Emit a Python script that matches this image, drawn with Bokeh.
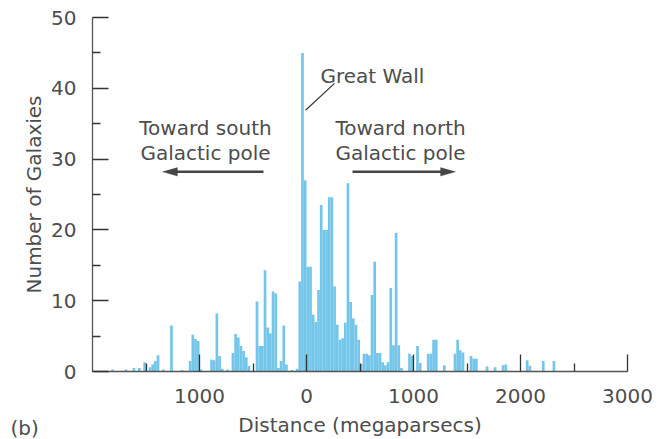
from bokeh.plotting import figure
from bokeh.models import (Range1d, FixedTicker, Label, Arrow, PolyAnnotation,
                          ColumnDataSource, Title)
from bokeh.embed import file_html
from bokeh.resources import INLINE

# ---- data ----
BIN_WIDTH = 25  # Mpc
bin_left = [-1825, -1700, -1625, -1575, -1525, -1475, -1450, -1425, -1400, -1350,
            -1275, -1175, -1100, -1075, -1050, -1025, -1000, -900, -875, -850,
            -825, -800, -750, -700, -675, -650, -625, -600, -575, -550,
            -475, -450, -425, -400, -375, -350, -325, -300, -275, -250,
            -225, -200, -150, -100, -75, -50, -25, 0, 25, 50,
            75, 100, 125, 150, 175, 200, 225, 250, 275, 300,
            325, 350, 375, 400, 425, 450, 475, 500, 525, 550,
            575, 600, 625, 650, 675, 700, 725, 750, 775, 800,
            825, 850, 875, 950, 975, 1025, 1050, 1125, 1150, 1175,
            1200, 1275, 1375, 1400, 1425, 1450, 1525, 1550, 1575, 1675,
            1750, 1825, 1850, 2050, 2075, 2200, 2300]
counts = [0.3, 0.3, 0.5, 0.5, 1.3, 0.6, 1.0, 1.5, 2.3, 0.3,
          6.5, 0.2, 1.5, 5.2, 4.6, 4.3, 0.3, 1.7, 1.6, 8.2,
          2.2, 0.4, 0.3, 2.6, 5.3, 4.8, 3.6, 2.9, 2.0, 0.8,
          9.9, 3.6, 3.6, 14.3, 6.2, 5.4, 11.3, 11.0, 0.5, 1.5,
          6.5, 1.0, 0.2, 0.4, 12.7, 45.0, 27.0, 14.8, 14.8, 8.0,
          7.0, 11.5, 23.5, 20.0, 20.0, 24.6, 24.6, 12.0, 6.6, 4.5,
          4.7, 6.9, 26.6, 9.8, 7.5, 6.6, 4.5, 1.1, 2.5, 2.5,
          2.3, 10.8, 15.5, 2.6, 2.6, 1.3, 0.9, 1.3, 11.8, 3.7,
          19.6, 3.7, 0.5, 2.5, 2.2, 3.6, 1.2, 2.5, 2.5, 4.5,
          4.5, 0.9, 2.5, 4.5, 3.0, 2.7, 2.2, 1.8, 1.8, 0.7,
          0.6, 0.9, 1.0, 1.6, 0.8, 1.5, 1.5]

x_major = [-1000, 0, 1000, 2000, 3000]
x_minor = [-1500, -500, 500, 1500, 2500]
x_labels = {-1000: "1000"}
y_major = [0, 10, 20, 30, 40, 50]
y_minor = [5, 15, 25, 35, 45]

FONT = "DejaVu Sans"
TXT = "#4d4d4d"
LINE = "#555555"
BAR = "#73C6E9"

p = figure(width=658, height=439, output_backend="svg", toolbar_location=None,
           x_range=Range1d(-2000, 3000), y_range=Range1d(0, 50))
p.min_border_left = 92
p.min_border_right = 31
p.min_border_top = 17
p.min_border_bottom = 67
p.outline_line_color = None
p.xgrid.grid_line_color = None
p.ygrid.grid_line_color = None
p.background_fill_color = "white"

src = ColumnDataSource(dict(left=bin_left,
                            right=[l + BIN_WIDTH for l in bin_left],
                            top=counts,
                            bottom=[0] * len(counts)))
p.quad(left="left", right="right", top="top", bottom="bottom", source=src,
       fill_color=BAR, line_color=None)

for ax in (p.xaxis[0], p.yaxis[0]):
    ax.axis_line_color = LINE
    ax.axis_line_width = 1.3
    ax.major_tick_line_color = "#333333"
    ax.minor_tick_line_color = "#333333"
    ax.major_tick_line_width = 1.3
    ax.minor_tick_line_width = 1.3
    ax.major_tick_out = 0
    ax.minor_tick_out = 0
    ax.major_label_text_font = FONT
    ax.major_label_text_font_size = "20px"
    ax.major_label_text_color = TXT
    ax.axis_label_text_font = FONT
    ax.axis_label_text_font_size = "20px"
    ax.axis_label_text_font_style = "normal"
    ax.axis_label_text_color = TXT

xa = p.xaxis[0]
xa.ticker = FixedTicker(ticks=x_major, minor_ticks=x_minor)
xa.major_label_overrides = x_labels
xa.major_tick_in = 17
xa.minor_tick_in = 8
xa.major_label_standoff = 17
xa.axis_label = "Distance (megaparsecs)"
xa.axis_label_standoff = 7

ya = p.yaxis[0]
ya.ticker = FixedTicker(ticks=y_major, minor_ticks=y_minor)
ya.major_tick_in = 16
ya.minor_tick_in = 8
ya.major_label_standoff = 16
ya.axis_label = "Number of Galaxies"
ya.axis_label_standoff = 2

def lab(x, y, t, align="center"):
    p.add_layout(Label(x=x, y=y, text=t, text_font=FONT, text_font_size="20px",
                       text_color=TXT, text_align=align,
                       text_baseline="alphabetic"))

lab(131, 41.8, "Great Wall", "left")
lab(-944, 34.4, "Toward south")
lab(-944, 30.8, "Galactic pole")
lab(879, 34.4, "Toward north")
lab(879, 30.8, "Galactic pole")

# panel letter: a zero-height title in the bottom panel; the trailing empty
# line lifts "(b)" onto the row of the axis title
p.add_layout(Title(text="(b)\n", align="left", offset=-82, standoff=-60,
                   vertical_align="middle", text_font=FONT,
                   text_font_size="20px", text_font_style="normal",
                   text_color=TXT), "below")

# pointer to the Great Wall
p.add_layout(Arrow(end=None, x_start=-9, y_start=36.9, x_end=262, y_end=40.7,
                   line_color="#333333", line_width=1.2))

# direction arrows
AR = "#454545"
p.add_layout(Arrow(end=None, x_start=-402, y_start=28.2, x_end=-1220, y_end=28.2,
                   line_color=AR, line_width=2.5))
p.add_layout(PolyAnnotation(xs=[-1346, -1206, -1206], ys=[28.2, 28.8, 27.6],
                            fill_color=AR, fill_alpha=1, line_color=AR, line_width=1))
p.add_layout(Arrow(end=None, x_start=430, y_start=28.2, x_end=1270, y_end=28.2,
                   line_color=AR, line_width=2.5))
p.add_layout(PolyAnnotation(xs=[1393, 1253, 1253], ys=[28.2, 28.8, 27.6],
                            fill_color=AR, fill_alpha=1, line_color=AR, line_width=1))

open("out.html", "w").write(file_html(p, INLINE))
